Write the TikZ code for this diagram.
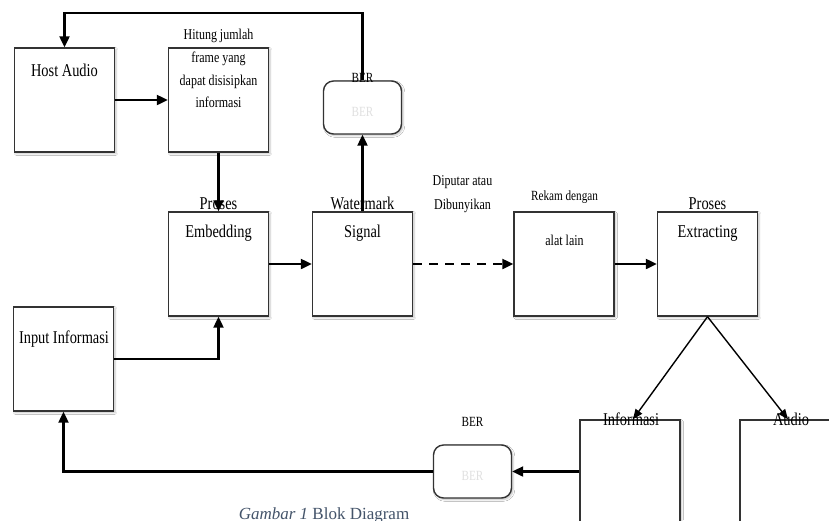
\documentclass[tikz,border=0pt]{standalone}
\usepackage{fontspec}
\setmainfont[FakeStretch=0.8]{Liberation Serif}
\newfontfamily\capfont{Liberation Serif}
\usetikzlibrary{arrows.meta,shadows.blur}
\definecolor{edgegray}{HTML}{333333}
\definecolor{capblue}{HTML}{44546A}
\begin{document}
\begin{tikzpicture}[x=1pt,y=-1pt,
  blk/.style={draw=edgegray, line width=1.4pt, fill=white, minimum width=100pt,
    minimum height=104pt, inner sep=0pt,
    blur shadow={shadow xshift=1.5pt, shadow yshift=-1.5pt, shadow blur steps=4, shadow opacity=25}},
  berbox/.style={blk, rounded corners=10pt, minimum width=78pt, minimum height=53pt},
  flow/.style={line width=2.2pt, -{Triangle[length=11pt,width=10pt]}},
  diag/.style={line width=1.4pt, -{Triangle[length=10pt,width=8pt]}},
  lbl/.style={anchor=base, inner sep=0pt, font=\fontsize{18}{20}\selectfont},
  small/.style={anchor=base, inner sep=0pt, font=\fontsize{15}{17}\selectfont},
  tiny/.style={anchor=base, inner sep=0pt, font=\fontsize{14}{16}\selectfont},
  faded/.style={tiny, text=black!12}]
\useasboundingbox (0,0) rectangle (829,520);
\fill[white] (0,0) rectangle (829,520);
% boxes
\node[blk] (host) at (64.5,100) {};
\node[blk] (hitung) at (218.5,100) {};
\node[blk] (embed) at (218.5,264) {};
\node[blk] (wm) at (362.5,264) {};
\node[blk] (rekam) at (564,264) {};
\node[blk] (extr) at (707.5,264) {};
\node[blk] (input) at (63.5,359) {};
\node[berbox] (ber1) at (362.5,107.5) {};
\node[berbox] (ber2) at (472.5,471.5) {};
\node[blk, minimum height=120pt] (info) at (630,480) {};
\node[blk, minimum height=120pt] (audio) at (790,480) {};
% connectors
\coordinate (topturn) at (362.5,13);
\draw[flow] (host) -- (hitung);
\draw[flow] (hitung) -- (embed);
\draw[flow] (embed) -- (wm);
\draw[flow] (wm) -- (ber1);
\draw[flow] (ber1.north) -- (topturn) -| (host.north);
\draw[flow, dash pattern=on 9pt off 7pt] (wm) -- (rekam);
\draw[flow] (rekam) -- (extr);
\draw[diag] (extr.south) -- ([xshift=3pt]info.north);
\draw[diag] (extr.south) -- ([xshift=-2pt]audio.north);
\draw[flow] (info.west |- ber2.east) -- (ber2.east);
\draw[flow] (ber2.west) -| (input.south);
\draw[flow] (input.east) -| (embed.south);
% texts
\node[lbl] (thost) at (64.5,76) {Host Audio};
\node[small] (th1) at (218.5,39) {Hitung jumlah};
\node[small] (th2) at (218.5,62) {frame yang};
\node[small] (th3) at (218.5,85) {dapat disisipkan};
\node[small] (th4) at (218.5,107) {informasi};
\node[tiny] (tber1) at (362.5,82) {BER};
\node[faded] (fber1) at (362.5,116) {BER};
\node[lbl] (tpe1) at (218.5,209) {Proses};
\node[lbl] (tpe2) at (218.5,237) {Embedding};
\node[lbl] (twm1) at (362.5,209) {Watermark};
\node[lbl] (twm2) at (362.5,237) {Signal};
\node[small] (tdp1) at (462.5,185) {Diputar atau};
\node[small] (tdp2) at (462.5,209) {Dibunyikan};
\node[tiny] (trk1) at (564.5,200) {Rekam dengan};
\node[small] (trk2) at (564.5,245) {alat lain};
\node[lbl] (tpx1) at (707.5,209) {Proses};
\node[lbl] (tpx2) at (707.5,237) {Extracting};
\node[lbl] (tinp) at (64,343) {Input Informasi};
\node[tiny] (tber2) at (472.5,426) {BER};
\node[faded] (fber2) at (472.5,480) {BER};
\node[lbl] (tinfo) at (631,425) {Informasi};
\node[lbl] (taud) at (791,425) {Audio};
\node[anchor=base, inner sep=0pt, text=capblue, font=\capfont\fontsize{17}{19}\selectfont] (cap) at (324,519) {\textit{Gambar 1} Blok Diagram};
\end{tikzpicture}
\end{document}
